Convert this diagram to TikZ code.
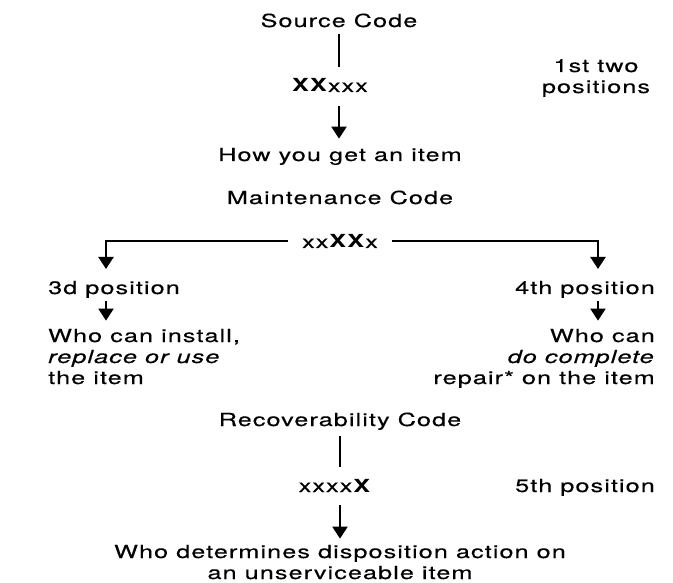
\documentclass[tikz,border=0pt]{standalone}
\usepackage{fontspec}
\setmainfont{TeX Gyre Heros}[FakeStretch=1.4,LetterSpace=6,
    UprightFeatures={FakeBold=0.3},ItalicFeatures={FakeBold=0.3}]
\usetikzlibrary{arrows.meta}

\begin{document}
\begin{tikzpicture}[x=1pt, y=-1pt,
    txt/.style={inner sep=0pt, font=\fontsize{18}{21}\selectfont},
    link/.style={black, line width=2pt},
    arr/.style={link, -{Triangle[length=12pt,width=15pt]}}]
    \useasboundingbox (0,0) rectangle (673,583);
    \node[txt, anchor=base] (src) at (339,27) {Source Code};
    \node[txt, anchor=base] (code1) at (330,92) {\textbf{XX}xxx};
    \node[txt, anchor=base, align=center] (pos12) at (596,93) {1st two\\positions};
    \node[txt, anchor=base] (how) at (340,161) {How you get an item};
    \node[txt, anchor=base] (mc) at (340,204) {Maintenance Code};
    \node[txt, anchor=base] (code2) at (340,248) {xx\textbf{XX}x};
    \node[txt, anchor=base west] (pos3) at (48,294) {3d position};
    \node[txt, anchor=base west, align=left] (inst) at (48,384) {Who can install,\\\textit{replace or use}\\the item};
    \node[txt, anchor=base east] (pos4) at (655,294) {4th position};
    \node[txt, anchor=base east, align=right] (rep) at (655,384) {Who can\\\textit{do complete}\\repair* on the item};
    \node[txt, anchor=base] (rc) at (340,426) {Recoverability Code};
    \node[txt, anchor=base] (code3) at (335,492) {xxxx\textbf{X}};
    \node[txt, anchor=base east] (pos5) at (655,492) {5th position};
    \node[txt, anchor=base, align=center] (disp) at (340,579) {Who determines disposition action on\\an unserviceable item};
    \coordinate (ltip) at (106,269);
    \coordinate (rtip) at (598,269);
    \draw[link, shorten <=6pt, shorten >=12pt] (src.south) -- (src.south |- code1.north);
    \draw[arr, shorten <=14pt, shorten >=9pt] (src.south |- code1.south) -- (src.south |- how.north);
    \draw[arr, shorten <=14pt] (code2.west) -| (ltip);
    \draw[arr, shorten <=14pt] (code2.east) -| (rtip);
    \draw[arr, shorten <=3pt, shorten >=8pt] (ltip |- pos3.south) -- (ltip |- inst.north);
    \draw[arr, shorten <=3pt, shorten >=8pt] (rtip |- pos4.south) -- (rtip |- rep.north);
    \draw[link, shorten <=6pt, shorten >=12pt] (rc.south) -- (rc.south |- code3.north);
    \draw[arr, shorten <=13pt, shorten >=6pt] (rc.south |- code3.south) -- (rc.south |- disp.north);
\end{tikzpicture}
\end{document}
